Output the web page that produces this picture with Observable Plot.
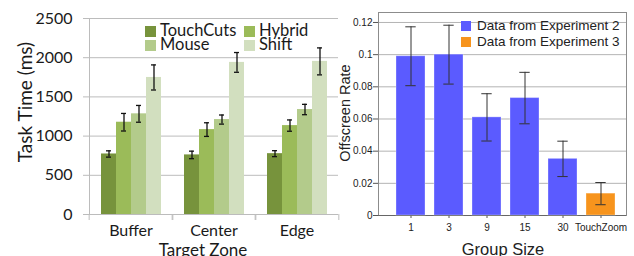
<!DOCTYPE html>
<html><head><meta charset="utf-8">
<script src="https://cdn.jsdelivr.net/npm/d3@7"></script>
<script src="https://cdn.jsdelivr.net/npm/@observablehq/plot@0.6"></script>
<style>
body{margin:0;background:#fff;}
#wrap{position:relative;width:634px;height:256px;overflow:hidden;background:#fff;}
.abs{position:absolute;white-space:nowrap;}
.sw{position:absolute;}
</style></head><body><div id="wrap"></div>
<script>
// ---- Left chart data ----
const zones = ["Buffer", "Center", "Edge"];
const methods = ["TouchCuts", "Hybrid", "Mouse", "Shift"];
const methodColors = ["#77933c", "#9bbb59", "#b3cb8b", "#d2dfbf"];
const touchCutsMean = [772, 760, 776];
const hybridMean = [1177, 1083, 1134];
const mouseMean = [1284, 1211, 1339];
const shiftMean = [1748, 1940, 1953];
const touchCutsErr = [40, 48, 38];
const hybridErr = [112, 87, 72];
const mouseErr = [107, 58, 66];
const shiftErr = [160, 126, 172];
const yTicksLeft = [0, 500, 1000, 1500, 2000, 2500];

// ---- Right chart data ----
const groupSizes = ["1", "3", "9", "15", "30", "TouchZoom"];
const offscreenRate = [0.099, 0.100, 0.061, 0.073, 0.0352, 0.0136];
const rateErr = [0.0183, 0.0183, 0.0147, 0.016, 0.011, 0.0069];
const experimentLabels = ["Data from Experiment 2", "Data from Experiment 3"];
const experimentOf = [0, 0, 0, 0, 0, 1];
const experimentColors = ["#5b5bff", "#f7941d"];
const yTicksRight = [0, 0.02, 0.04, 0.06, 0.08, 0.1, 0.12];

const wrap = document.getElementById("wrap");

// ---------- Left chart ----------
const means = [touchCutsMean, hybridMean, mouseMean, shiftMean];
const errs = [touchCutsErr, hybridErr, mouseErr, shiftErr];
const tt = zones.flatMap((z, i) => methods.map((m, j) => ({zone: z, method: m, mean: means[j][i], err: errs[j][i]})));

const LW = 345, LML = 88, LMR = 6;
const facetW = (LW - LML - LMR) / zones.length;
const gridC = "#bcbcbc";
const left = Plot.plot({
  width: LW, height: 256, marginLeft: LML, marginRight: LMR, marginTop: 18, marginBottom: 42,
  style: {background: "transparent", overflow: "visible", fontFamily: "Lato", fontSize: "16px", color: "#1a1a1a"},
  fx: {domain: zones, padding: 0, label: null},
  x: {domain: methods, paddingInner: 0, paddingOuter: 0.74, axis: null},
  y: {domain: [0, 2500], label: null},
  color: {domain: methods, range: methodColors},
  marks: [
    Plot.ruleY(yTicksLeft, {stroke: gridC}),
    Plot.axisY({ticks: yTicksLeft, tickSize: 6, tickPadding: 11, tickFormat: d3.format("d"), stroke: gridC, fill: "#1a1a1a", label: null}),
    Plot.frame({anchor: "left", facetAnchor: "left", stroke: gridC}),
    Plot.axisFx({anchor: "bottom", tickSize: 0, tickPadding: 10, label: null, fill: "#1a1a1a"}),
    Plot.axisFx({anchor: "bottom", tickSize: 6, tickFormat: () => "", dx: -facetW / 2, stroke: gridC, label: null}),
    Plot.axisFx({anchor: "bottom", tickSize: 6, tickFormat: () => "", dx: facetW / 2, stroke: gridC, label: null}),
    Plot.barY(tt, {fx: "zone", x: "method", y: "mean", fill: "method"}),
    Plot.ruleX(tt, {fx: "zone", x: "method", y1: d => d.mean - d.err, y2: d => d.mean + d.err, stroke: "#111", strokeWidth: 1.3}),
    Plot.tickY(tt, {fx: "zone", x: "method", y: d => d.mean - d.err, insetLeft: 5, insetRight: 5, stroke: "#111", strokeWidth: 1.3}),
    Plot.tickY(tt, {fx: "zone", x: "method", y: d => d.mean + d.err, insetLeft: 5, insetRight: 5, stroke: "#111", strokeWidth: 1.3})
  ]
});
left.style.position = "absolute"; left.style.left = "0px"; left.style.top = "0px";
wrap.appendChild(left);

// ---------- Right chart ----------
const rate = groupSizes.map((g, i) => ({group: g, rate: offscreenRate[i], err: rateErr[i], exp: experimentLabels[experimentOf[i]]}));
const RX = 330;
const right = Plot.plot({
  width: 304, height: 256, marginLeft: 48, marginRight: 8, marginTop: 12, marginBottom: 41,
  style: {background: "transparent", overflow: "visible", fontFamily: "'Liberation Sans', Arial, sans-serif", fontSize: "10px", color: "#222"},
  x: {domain: groupSizes, padding: 0.24, insetLeft: 6, label: null},
  y: {domain: [0, 0.1262], label: null},
  color: {domain: experimentLabels, range: experimentColors},
  marks: [
    Plot.ruleY(yTicksRight, {stroke: "#b4b4b4"}),
    Plot.frame({stroke: "#8c8c8c"}),
    Plot.ruleY([0], {stroke: "#666"}),
    Plot.axisY({ticks: yTicksRight, tickSize: 5, tickPadding: 1, tickFormat: d3.format("~g"), stroke: "#555", fill: "#222", label: null}),
    Plot.axisX({tickSize: 3, tickPadding: 5, stroke: "#555", fill: "#222", label: null}),
    Plot.barY(rate, {x: "group", y: "rate", fill: "exp", stroke: "white", strokeOpacity: 0.3}),
    Plot.ruleX(rate, {x: "group", y1: d => d.rate - d.err, y2: d => d.rate + d.err, stroke: "#333"}),
    Plot.tickY(rate, {x: "group", y: d => d.rate - d.err, insetLeft: 9.3, insetRight: 9.3, stroke: "#333"}),
    Plot.tickY(rate, {x: "group", y: d => d.rate + d.err, insetLeft: 9.3, insetRight: 9.3, stroke: "#333"})
  ]
});
right.style.position = "absolute"; right.style.left = RX + "px"; right.style.top = "0px";
wrap.appendChild(right);

// ---------- Text overlays: axis titles and legends ----------
function addText(txt, x, y, css) {
  const d = document.createElement("div");
  d.className = "abs"; d.textContent = txt;
  d.style.left = x + "px"; d.style.top = y + "px";
  Object.assign(d.style, css || {});
  wrap.appendChild(d); return d;
}
function addSwatch(color, x, y, s) {
  const d = document.createElement("div");
  d.className = "sw";
  Object.assign(d.style, {left: x + "px", top: y + "px", width: s + "px", height: s + "px", background: color});
  wrap.appendChild(d);
}
const lato = {fontFamily: "Lato", color: "#1a1a1a"};
addText("Task Time (ms)", 24, 102, Object.assign({fontSize: "19px", lineHeight: "19px", transform: "translate(-50%,-50%) rotate(-90deg)"}, lato));
addText("Target Zone", 203, 241, Object.assign({fontSize: "17px", lineHeight: "17px", transform: "translateX(-50%)"}, lato));
const legPos = [[145, 25.5], [244, 25.5], [145, 39.5], [244, 39.5]];
methods.forEach((m, i) => {
  const [x, y] = legPos[i];
  addSwatch(methodColors[i], x, y, 11);
  addText(m, x + 15, y - 1.5, Object.assign({fontSize: "16.5px", lineHeight: "13px"}, lato));
});
const arial = {fontFamily: "'Liberation Sans', Arial, sans-serif", color: "#222"};
addText("Offscreen Rate", 345, 113, Object.assign({fontSize: "14.5px", lineHeight: "15px", transform: "translate(-50%,-50%) rotate(-90deg)"}, arial));
addText("Group Size", 503, 241, Object.assign({fontSize: "16.5px", lineHeight: "17px", transform: "translateX(-50%)"}, arial));
experimentLabels.forEach((t, i) => {
  addSwatch(experimentColors[i], 461, 21 + i * 16, 10);
  addText(t, 477, 19 + i * 16, Object.assign({fontSize: "13.5px", lineHeight: "14px"}, arial));
});
</script></body></html>
